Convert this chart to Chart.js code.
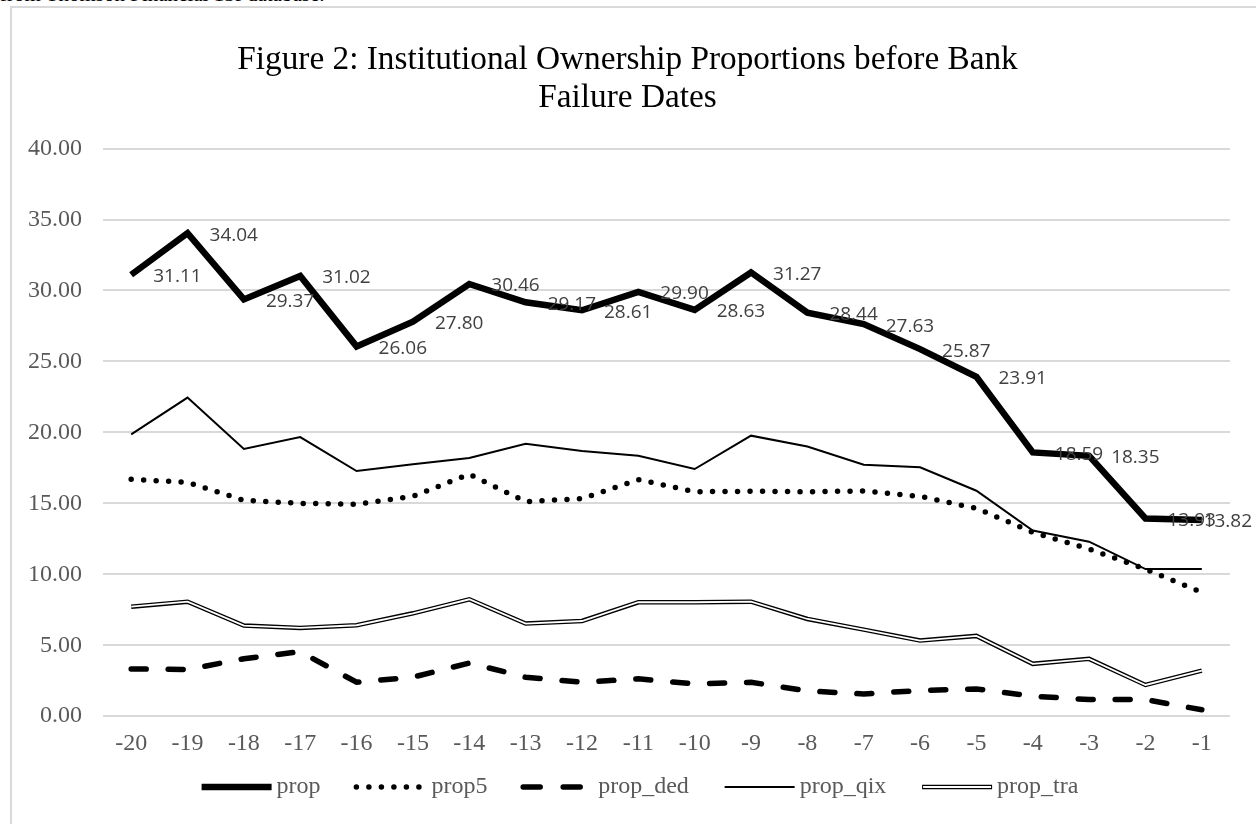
<!DOCTYPE html>
<html>
<head>
<meta charset="utf-8">
<script src="https://cdn.jsdelivr.net/npm/chart.js@4.4.1/dist/chart.umd.min.js"></script>
<style>
  body { margin: 0; background: #fff; overflow: hidden; }
  #note { position: absolute; left: 0; top: -18px; font: 21px "Liberation Serif", "Times New Roman", serif; color: #000; white-space: nowrap; }
  #frame { position: absolute; left: 10px; top: 6px; width: 1300px; height: 900px; border: 2px solid #d9d9d9; }
  #wrap { position: absolute; left: 12px; top: 8px; width: 1244px; height: 816px; }
</style>
</head>
<body>
<div id="note">from Thomson Financial 13f database.</div>
<div id="frame"></div>
<div id="wrap"><canvas id="chartOwnership"></canvas></div>
<script>
const months = ['-20', '-19', '-18', '-17', '-16', '-15', '-14', '-13', '-12', '-11',
  '-10', '-9', '-8', '-7', '-6', '-5', '-4', '-3', '-2', '-1'];
const prop = [31.11, 34.04, 29.37, 31.02, 26.06, 27.80, 30.46, 29.17, 28.61, 29.90,
  28.63, 31.27, 28.44, 27.63, 25.87, 23.91, 18.59, 18.35, 13.93, 13.82];
const prop5 = [16.69, 16.48, 15.21, 15.00, 14.93, 15.49, 17.06, 15.12, 15.33, 16.67,
  15.82, 15.85, 15.82, 15.87, 15.49, 14.65, 12.96, 11.78, 10.37, 8.73];
const propDed = [3.33, 3.29, 4.05, 4.55, 2.39, 2.75, 3.75, 2.75, 2.39, 2.63,
  2.28, 2.39, 1.78, 1.57, 1.81, 1.92, 1.41, 1.17, 1.17, 0.45];
const propQix = [19.86, 22.45, 18.83, 19.67, 17.28, 17.75, 18.19, 19.20, 18.69, 18.36,
  17.42, 19.77, 19.01, 17.72, 17.54, 15.89, 13.08, 12.30, 10.37, 10.37];
const propTra = [7.72, 8.07, 6.39, 6.22, 6.41, 7.25, 8.24, 6.53, 6.71, 8.03,
  8.03, 8.07, 6.85, 6.10, 5.33, 5.66, 3.69, 4.04, 2.20, 3.21];
const yTicks = [0, 5, 10, 15, 20, 25, 30, 35, 40];

const serif = '"Liberation Serif", "Times New Roman", serif';
const legendShift = 12;

// value labels right of the prop points, white core of the double line,
// and the legend samples (Chart.js ignores dashes for point-style legends)
const extras = {
  id: 'extras',
  beforeDraw(chart) {
    // nudge the legend row a bit to the right, like the original
    chart.legend.lineWidths[0] -= legendShift * 2;
  },
  afterDatasetsDraw(chart) {
    const ctx = chart.ctx;
    const tra = chart.getDatasetMeta(4).data;
    ctx.save();
    ctx.strokeStyle = '#fff';
    ctx.lineWidth = 1.8;
    ctx.beginPath();
    tra.forEach((p, i) => i ? ctx.lineTo(p.x, p.y) : ctx.moveTo(p.x, p.y));
    ctx.stroke();
    ctx.restore();

    const pts = chart.getDatasetMeta(0).data;
    ctx.save();
    ctx.font = '19px "Open Sans", sans-serif';
    ctx.fillStyle = '#404040';
    ctx.textAlign = 'left';
    ctx.textBaseline = 'middle';
    pts.forEach((p, i) => {
      const txt = prop[i].toFixed(2);
      const w = ctx.measureText(txt).width;
      const x = Math.min(p.x + 22, chart.width - 4 - w);
      ctx.fillText(txt, x, p.y + 2);
    });
    ctx.restore();
  },
  afterDraw(chart) {
    const ctx = chart.ctx;
    chart.legend.legendHitBoxes.forEach((box, i) => {
      const ds = chart.data.datasets[i];
      const x0 = box.left + legendShift + 1;
      const y = box.top + 12;
      ctx.save();
      ctx.strokeStyle = '#000';
      ctx.lineWidth = ds.borderWidth;
      ctx.lineCap = ds.borderCapStyle || 'butt';
      ctx.setLineDash(i === 2 ? [17, 23] : (ds.borderDash || []));
      ctx.beginPath();
      ctx.moveTo(x0, y);
      ctx.lineTo(x0 + 70, y);
      ctx.stroke();
      if (i === 4) {
        ctx.strokeStyle = '#fff';
        ctx.lineWidth = 1.8;
        ctx.beginPath();
        ctx.moveTo(x0 + 1, y);
        ctx.lineTo(x0 + 69, y);
        ctx.stroke();
      }
      ctx.restore();
    });
  }
};

new Chart(document.getElementById('chartOwnership'), {
  type: 'line',
  data: {
    labels: months,
    datasets: [{
      label: 'prop',
      data: prop,
      borderColor: '#000',
      borderWidth: 6.5,
      pointRadius: 0
    }, {
      label: 'prop5',
      data: prop5,
      borderColor: '#000',
      borderWidth: 5.5,
      borderDash: [0, 12.5],
      borderCapStyle: 'round',
      pointRadius: 0
    }, {
      label: 'prop_ded',
      data: propDed,
      borderColor: '#000',
      borderWidth: 5.5,
      borderDash: [15, 22],
      borderCapStyle: 'round',
      pointRadius: 0
    }, {
      label: 'prop_qix',
      data: propQix,
      borderColor: '#000',
      borderWidth: 2,
      pointRadius: 0
    }, {
      label: 'prop_tra',
      data: propTra,
      borderColor: '#000',
      borderWidth: 4.5,
      pointRadius: 0
    }]
  },
  options: {
    responsive: true,
    maintainAspectRatio: false,
    animation: false,
    layout: {
      padding: { left: 13, right: 26, top: 0, bottom: 15 }
    },
    scales: {
      x: {
        offset: true,
        grid: { display: false },
        border: { display: false },
        ticks: {
          color: '#595959',
          font: { family: serif, size: 24 },
          padding: 5,
          maxRotation: 0,
          autoSkip: false
        }
      },
      y: {
        min: 0,
        max: 40,
        afterBuildTicks: s => { s.ticks = yTicks.map(v => ({ value: v })); },
        afterFit: s => { s.width = 78; },
        grid: { color: '#d9d9d9', lineWidth: 2, drawTicks: false },
        border: { display: false },
        ticks: {
          color: '#595959',
          font: { family: serif, size: 24 },
          padding: 21,
          callback: v => v.toFixed(2)
        }
      }
    },
    plugins: {
      title: {
        display: true,
        text: ['Figure 2: Institutional Ownership Proportions before Bank', 'Failure Dates'],
        color: '#000',
        font: { family: serif, size: 33.3, weight: 'normal', lineHeight: 1.15 },
        padding: { top: 33, bottom: 31 }
      },
      legend: {
        display: true,
        position: 'bottom',
        labels: {
          usePointStyle: true,
          pointStyle: 'line',
          pointStyleWidth: 64,
          color: '#595959',
          font: { family: serif, size: 24 },
          padding: 12,
          generateLabels: chart => {
            const items = Chart.defaults.plugins.legend.labels.generateLabels(chart);
            return items.map((it, i) => Object.assign(it, {
              strokeStyle: 'rgba(0,0,0,0)',
              fillStyle: 'rgba(0,0,0,0)',
              text: i < items.length - 1 ? it.text + ' \u2009\u2002' : it.text
            }));
          }
        }
      },
      tooltip: { enabled: false }
    }
  },
  plugins: [extras]
});
</script>
</body>
</html>
